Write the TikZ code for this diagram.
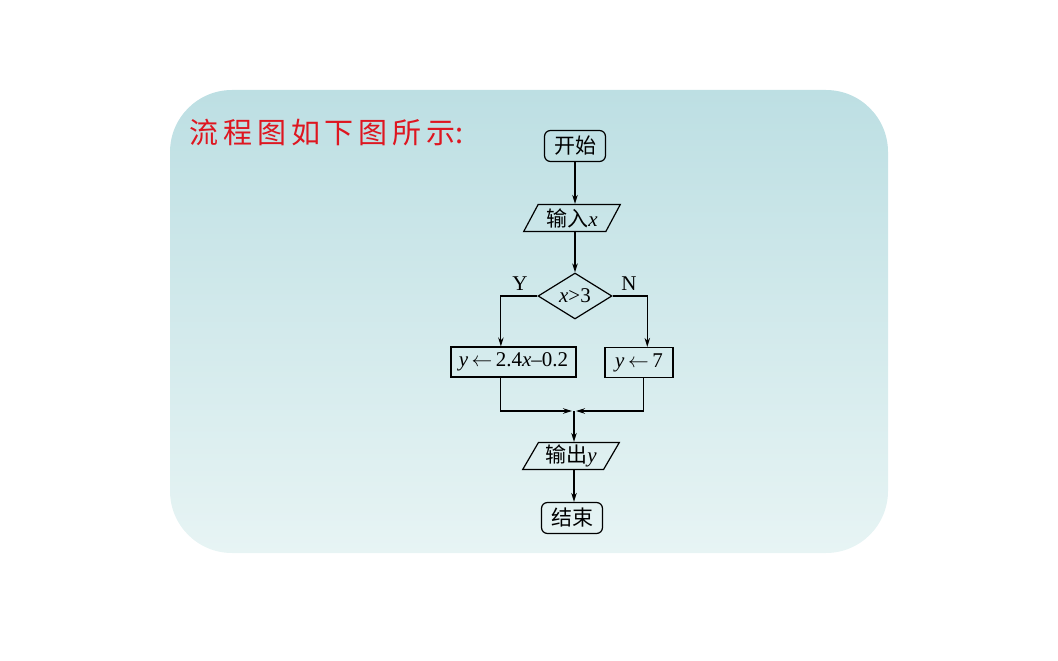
\documentclass[tikz,border=0pt]{standalone}
\usepackage{fontspec}
\setmainfont{Liberation Serif}
\newfontfamily\cjk{Noto Sans CJK SC}
\usetikzlibrary{shapes.geometric,arrows.meta,calc}
\definecolor{titlered}{RGB}{222,22,32}
\definecolor{bgtop}{RGB}{189,223,227}
\definecolor{bgbot}{RGB}{231,244,244}
\tikzset{
  ln/.style={line width=1.2pt},
  arr/.style={ln,-{Stealth[length=9pt,width=5.5pt]}},
  txt/.style={font=\fontsize{21}{24}\selectfont},
  term/.style={ln,draw,rounded corners=6pt,minimum width=61pt,minimum height=31pt,inner sep=1pt,txt},
  io/.style={ln,draw,trapezium,trapezium left angle=62,trapezium right angle=118,trapezium stretches=true,minimum width=97pt,minimum height=27pt,inner sep=1pt,txt},
  dec/.style={ln,draw,diamond,minimum width=74pt,minimum height=46pt,inner sep=0pt,txt},
  proc/.style={ln,draw,minimum height=30pt,inner sep=1pt,txt},
  lab/.style={txt}
}
\newcommand{\asg}{\,$\leftarrow$\,}
\begin{document}
\begin{tikzpicture}[x=1pt,y=-1pt]
\useasboundingbox (0,0) rectangle (1058,661);
\shade[top color=bgtop,bottom color=bgbot,rounded corners=62pt] (170,90) rectangle (888,553);
\node[anchor=west,text=titlered,font=\cjk\fontsize{29}{32}\selectfont] (title) at (186,133) {流\,程\,图\,如\,下\,图\,所\,示:};
\node[term] (start) at (575,146) {\cjk 开始};
\node[io] (in) at (572,218) {{\cjk 输入}\textit{x}};
\node[dec] (d) at (575,296) {\textit{x}>3};
\node[proc,minimum width=125pt] (b1) at (513.5,362) {\textit{y}\asg 2.4\textit{x}–0.2};
\node[proc,minimum width=68pt] (b2) at (639,362.5) {\textit{y}\asg 7};
\coordinate (m) at (574,411);
\node[io] (out) at (571,456) {{\cjk 输出}\textit{y}};
\node[term] (end) at (572,518) {\cjk 结束};
\node[lab] (ylab) at (520,284) {Y};
\node[lab] (nlab) at (629,284) {N};
\draw[arr] (start.south) -- (start.south |- in.north);
\draw[arr] (in.north -| d.north) ++(0,27) -- (d.north);
\draw[arr] (d.west) -| ($(b1.north west)!0.4!(b1.north east)$);
\draw[arr] (d.east) -| ($(b2.north west)!0.62!(b2.north east)$);
\draw[arr] ($(b1.south west)!0.4!(b1.south east)$) |- ([xshift=-2pt]m);
\draw[arr] ($(b2.south west)!0.56!(b2.south east)$) |- ([xshift=2pt]m);
\draw[arr] (m) -- (m |- out.north);
\draw[arr] (m |- out.south) -- (m |- end.north);
\end{tikzpicture}
\end{document}
